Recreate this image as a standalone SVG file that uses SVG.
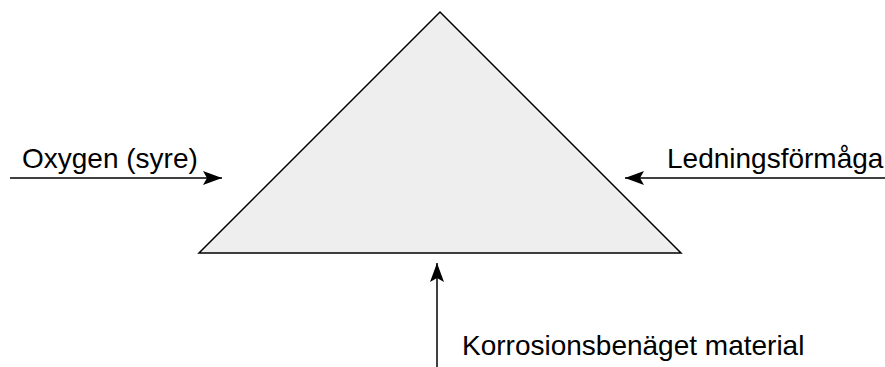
<svg xmlns="http://www.w3.org/2000/svg" width="885" height="367" viewBox="0 0 885 367">
<style>
.lbl{font-family:"Liberation Sans",Arial,sans-serif;font-size:28px;fill:#000}
.con{stroke:#000;stroke-width:1.5;fill:none}
</style>
<defs>
<marker id="ah" markerWidth="20" markerHeight="16" viewBox="0 0 20 16" refX="19" refY="8" orient="auto" markerUnits="userSpaceOnUse">
<path d="M0,1 L19,8 L0,15 L4,8 Z" fill="#000"/>
</marker>
</defs>
<rect width="885" height="367" fill="#fff"/>
<g id="triangle">
<polygon points="440,12 681,253 199,253" fill="#eeeeee" stroke="#000" stroke-width="1.5"/>
</g>
<g id="connectors">
<line class="con" x1="10" y1="178" x2="222" y2="178" marker-end="url(#ah)"/>
<line class="con" x1="885" y1="178" x2="625" y2="178" marker-end="url(#ah)"/>
<line class="con" x1="437" y1="367" x2="437" y2="263" marker-end="url(#ah)"/>
</g>
<g id="oxygen"><text class="lbl" x="22" y="168">Oxygen (syre)</text></g>
<g id="ledning"><text class="lbl" x="667" y="168">Ledningsförmåga</text></g>
<g id="material"><text class="lbl" x="462" y="355">Korrosionsbenäget material</text></g>
</svg>
